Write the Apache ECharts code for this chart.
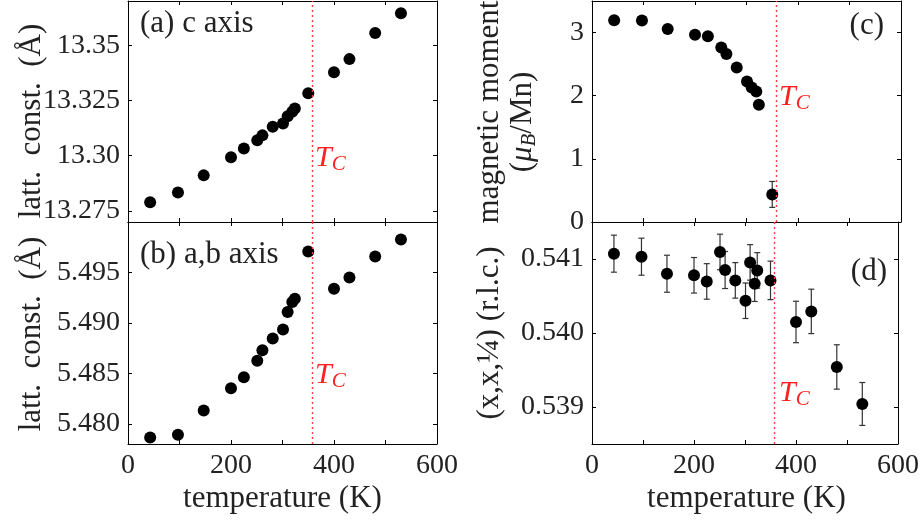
<!DOCTYPE html>
<html>
<head>
<meta charset="utf-8">
<script src="https://cdn.jsdelivr.net/npm/echarts@6/dist/echarts.min.js"></script>
<style>
  html, body { margin: 0; padding: 0; background: #fff; }
  #main { width: 922px; height: 523px; }
</style>
</head>
<body>
<div id="main"></div>
<script>
// Temperatures (K) of the diffraction scans
const temperature = [43, 97, 147, 200, 225, 251, 261, 281, 301, 310, 319, 324, 350, 400, 430, 480, 530];
// (a) c-axis lattice constant (Å)
const cAxisConst = [13.2789, 13.2833, 13.2911, 13.2993, 13.3033, 13.3070, 13.3092, 13.3131, 13.3146,
                    13.3179, 13.3199, 13.3214, 13.3283, 13.3378, 13.3437, 13.3555, 13.3645];
// (b) a,b-axis lattice constant (Å)
const abAxisConst = [5.47865, 5.47891, 5.48131, 5.48352, 5.48461, 5.48625, 5.48730, 5.48846, 5.48934,
                     5.49108, 5.49207, 5.49240, 5.49707, 5.49339, 5.49451, 5.49658, 5.49826];
// (c) ordered Mn moment (μB/Mn), only up to T_C
const momentTemperature = [43, 97, 147, 200, 225, 251, 261, 281, 301, 310, 319, 324, 350];
const moment    = [3.195, 3.19, 3.058, 2.964, 2.94, 2.763, 2.659, 2.447, 2.226, 2.131, 2.068, 1.858, 0.437];
const momentErr = [0.04, 0.04, 0.04, 0.04, 0.04, 0.04, 0.04, 0.04, 0.04, 0.04, 0.04, 0.04, 0.205];
// (d) position parameter x of the (x,x,1/4) site (r.l.c.)
const positionX = [0.541072, 0.541031, 0.540801, 0.540780, 0.540697, 0.541095, 0.540851, 0.540711, 0.540436,
                   0.540954, 0.540666, 0.540846, 0.540711, 0.540149, 0.540292, 0.539541, 0.539041];
const positionErr = [0.00025, 0.00025, 0.00025, 0.00024, 0.00024, 0.00024, 0.00025, 0.00024, 0.00024,
                     0.00024, 0.00024, 0.00024, 0.00026, 0.00028, 0.00030, 0.00030, 0.00029];
// Curie temperature
const curieT = 358;

// Tick positions and their printed labels
const tempTicks = [0, 100, 200, 300, 400, 500, 600];
const tempLabels = [0, 200, 400, 600];
const cTicks = [13.275, 13.30, 13.325, 13.35];
const cTickLabels = ['13.275', '13.30', '13.325', '13.35'];
const abTicks = [5.480, 5.485, 5.490, 5.495];
const abTickLabels = ['5.480', '5.485', '5.490', '5.495'];
const momentTicks = [0, 1, 2, 3];
const momentTickLabels = ['0', '1', '2', '3'];
const posTicks = [0.539, 0.540, 0.541];
const posTickLabels = ['0.539', '0.540', '0.541'];

const FONT = '"Liberation Serif", "Times New Roman", serif';
const INK = '#222';
const WORD_SIZE = 31;

const grids = [
  { left: 128, top: 1,   width: 309, height: 221 },  // (a)
  { left: 128, top: 222, width: 309, height: 222 },  // (b)
  { left: 592, top: 1,   width: 309, height: 221 },  // (c)
  { left: 592, top: 222, width: 309, height: 222 }   // (d)
];

const axisLine = { show: true, onZero: false, lineStyle: { color: '#000', width: 1 } };
const tickStyle = { color: '#000', width: 1 };

function labelOf(ticks, labels) {
  return v => {
    let best = 0;
    ticks.forEach((t, i) => { if (Math.abs(t - v) < Math.abs(ticks[best] - v)) best = i; });
    return labels[best];
  };
}

const xAxes = [];
const yAxes = [];
function addAxes(g, yMin, yMax, yTicks, yLabels, showX) {
  xAxes.push({
    type: 'value', gridIndex: g, position: 'bottom', min: 0, max: 600,
    axisLine, splitLine: { show: false },
    axisTick: { show: true, inside: true, length: 4, customValues: tempTicks, lineStyle: tickStyle },
    axisLabel: { show: showX, customValues: tempLabels, fontFamily: FONT, fontSize: 28, color: INK, margin: 8 }
  });
  xAxes.push({
    type: 'value', gridIndex: g, position: 'top', min: 0, max: 600,
    axisLine, splitLine: { show: false },
    axisTick: { show: true, inside: true, length: 4, customValues: tempTicks, lineStyle: tickStyle },
    axisLabel: { show: false }
  });
  yAxes.push({
    type: 'value', gridIndex: g, position: 'left', min: yMin, max: yMax,
    axisLine, splitLine: { show: false },
    axisTick: { show: true, inside: true, length: 4, customValues: yTicks, lineStyle: tickStyle },
    axisLabel: { customValues: yTicks, formatter: labelOf(yTicks, yLabels),
                 fontFamily: FONT, fontSize: 28, color: INK, margin: 8 }
  });
  yAxes.push({
    type: 'value', gridIndex: g, position: 'right', min: yMin, max: yMax,
    axisLine, splitLine: { show: false },
    axisTick: { show: true, inside: true, length: 4, customValues: yTicks, lineStyle: tickStyle },
    axisLabel: { show: false }
  });
}
addAxes(0, 13.27, 13.37, cTicks, cTickLabels, false);
addAxes(1, 5.478, 5.500, abTicks, abTickLabels, true);
addAxes(2, 0, 3.5, momentTicks, momentTickLabels, false);
addAxes(3, 0.5385, 0.5415, posTicks, posTickLabels, true);

const curieLine = {
  silent: true, symbol: 'none', animation: false,
  label: { show: false },
  lineStyle: { color: '#ff3b3b', type: [2, 3], width: 1.4 },
  data: [{ xAxis: curieT }]
};

function points(g, xs, ys) {
  return {
    type: 'scatter', xAxisIndex: 2 * g, yAxisIndex: 2 * g,
    data: xs.map((x, i) => [x, ys[i]]),
    symbol: 'circle', symbolSize: 12, z: 3,
    itemStyle: { color: '#000', opacity: 1 },
    markLine: curieLine
  };
}

function errorBars(g, xs, ys, errs) {
  return {
    type: 'custom', xAxisIndex: 2 * g, yAxisIndex: 2 * g, z: 2, silent: true,
    data: xs.map((x, i) => [x, ys[i] - errs[i], ys[i] + errs[i]]),
    encode: { x: 0, y: [1, 2] },
    renderItem(params, api) {
      const x = api.value(0);
      const lo = api.coord([x, api.value(1)]);
      const hi = api.coord([x, api.value(2)]);
      const w = 3, st = { stroke: '#333', lineWidth: 1.2 };
      return {
        type: 'group', children: [
          { type: 'line', shape: { x1: lo[0], y1: lo[1], x2: hi[0], y2: hi[1] }, style: st },
          { type: 'line', shape: { x1: lo[0] - w, y1: lo[1], x2: lo[0] + w, y2: lo[1] }, style: st },
          { type: 'line', shape: { x1: hi[0] - w, y1: hi[1], x2: hi[0] + w, y2: hi[1] }, style: st }
        ]
      };
    }
  };
}

function text(x, y, str, opts) {
  return Object.assign({
    type: 'text', x, y, silent: true, z: 10,
    style: Object.assign({
      text: str, fontFamily: FONT, fontSize: WORD_SIZE, fill: INK,
      textAlign: 'left', textVerticalAlign: 'middle'
    }, (opts && opts.style) || {})
  }, (opts && opts.el) || {});
}

const tcRich = {
  t: { fontFamily: FONT, fontStyle: 'italic', fontSize: 30, fill: '#ff2020', lineHeight: 34 },
  s: { fontFamily: FONT, fontStyle: 'italic', fontSize: 21, fill: '#ff2020', lineHeight: 34, verticalAlign: 'bottom' }
};
function tcLabel(x, y) {
  return text(x, y, '{t|T}{s|C}', { style: { rich: tcRich } });
}

const rot = { rotation: Math.PI / 2 };
const graphic = [
  text(140, 24, '(a) c axis'),
  text(140, 255, '(b) a,b axis'),
  text(884, 26, '(c)', { style: { textAlign: 'right' } }),
  text(887, 272, '(d)', { style: { textAlign: 'right' } }),
  tcLabel(315, 158), tcLabel(315, 375), tcLabel(779, 97), tcLabel(779, 393),
  text(32, 121, 'latt.  const.  (Å)', { style: { textAlign: 'center' }, el: rot }),
  text(32, 334, 'latt.  const.  (Å)', { style: { textAlign: 'center' }, el: rot }),
  text(490, 112, 'magnetic moment', { style: { textAlign: 'center' }, el: rot }),
  text(523, 122, '{n|(}{i|μ}{s|B}{n|/Mn)}', {
    style: {
      textAlign: 'center',
      rich: {
        n: { fontFamily: FONT, fontSize: WORD_SIZE, fill: INK, lineHeight: 34 },
        i: { fontFamily: FONT, fontSize: WORD_SIZE, fontStyle: 'italic', fill: INK, lineHeight: 34 },
        s: { fontFamily: FONT, fontSize: 21, fontStyle: 'italic', fill: INK, lineHeight: 34, verticalAlign: 'bottom' }
      }
    },
    el: rot
  }),
  text(490, 333, '(x,x,¼) (r.l.c.)', { style: { textAlign: 'center' }, el: rot }),
  text(282.5, 499, 'temperature (K)', { style: { textAlign: 'center' } }),
  text(746.5, 499, 'temperature (K)', { style: { textAlign: 'center' } })
];

const chart = echarts.init(document.getElementById('main'), null, { renderer: 'canvas' });
chart.setOption({
  animation: false,
  backgroundColor: '#fff',
  grid: grids,
  xAxis: xAxes,
  yAxis: yAxes,
  series: [
    points(0, temperature, cAxisConst),
    points(1, temperature, abAxisConst),
    errorBars(2, momentTemperature, moment, momentErr),
    points(2, momentTemperature, moment),
    errorBars(3, temperature, positionX, positionErr),
    points(3, temperature, positionX)
  ],
  graphic
});
</script>
</body>
</html>
